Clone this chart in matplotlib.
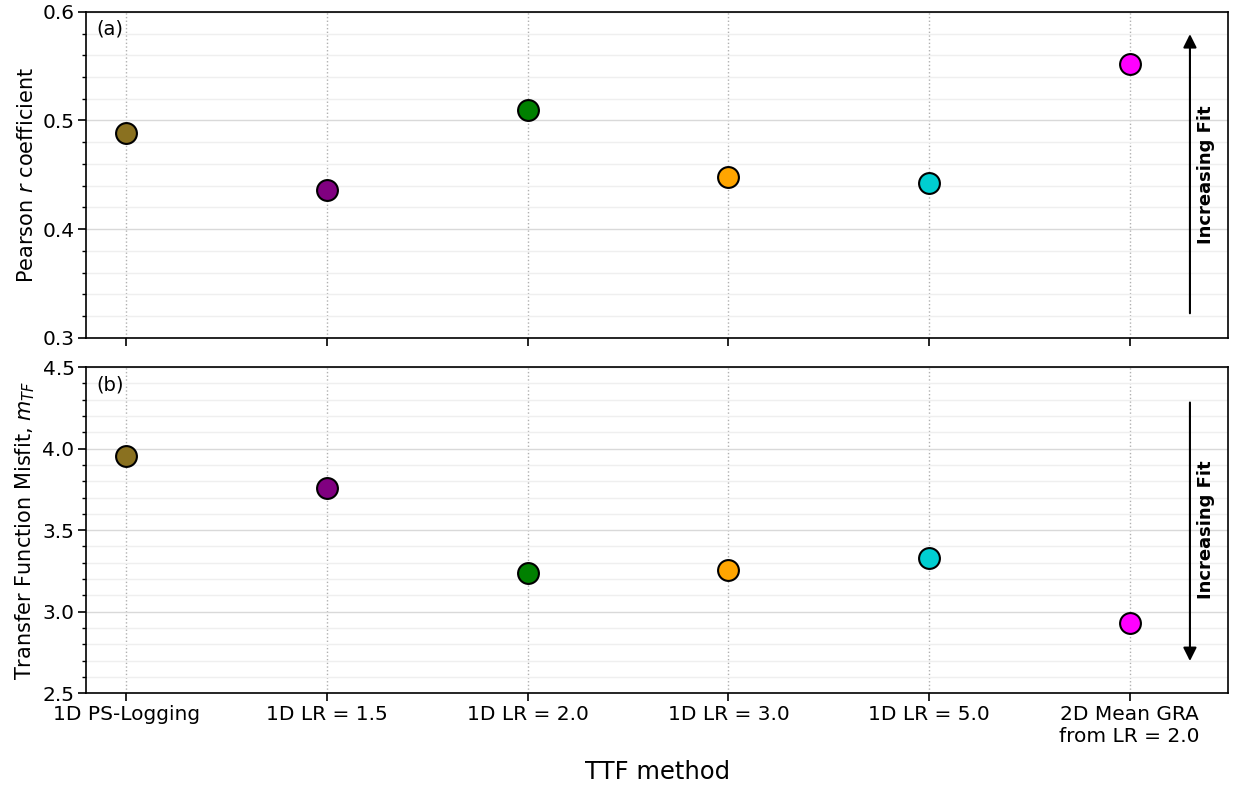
import numpy as np
import matplotlib
matplotlib.use('Agg')
import matplotlib.pyplot as plt
from matplotlib.ticker import MultipleLocator

# TTF methods compared
methods = ['1D PS-Logging', '1D LR = 1.5', '1D LR = 2.0', '1D LR = 3.0',
           '1D LR = 5.0', '2D Mean GRA\nfrom LR = 2.0']
colors = ['#8a7120', 'purple', 'green', 'orange', 'darkturquoise', 'magenta']

# goodness-of-fit measures per method
pearson_r = [0.488, 0.436, 0.510, 0.448, 0.442, 0.552]
tf_misfit = [3.954, 3.758, 3.236, 3.255, 3.328, 2.929]

plt.rcParams['font.family'] = 'DejaVu Sans'

fig, (ax1, ax2) = plt.subplots(2, 1, figsize=(12.33, 7.85), dpi=100, sharex=True)
fig.subplots_adjust(left=0.07, right=0.996, top=0.985, bottom=0.117, hspace=0.09)

x = np.arange(len(methods))

for ax, vals in [(ax1, pearson_r), (ax2, tf_misfit)]:
    for xi, v, c in zip(x, vals, colors):
        ax.plot(xi, v, 'o', ms=15, mfc=c, mec='black', mew=1.5, zorder=3)
    ax.grid(True, which='major', axis='y', color='#d9d9d9', lw=1.0)
    ax.grid(True, which='minor', axis='y', color='#efefef', lw=1.0)
    ax.grid(True, which='major', axis='x', color='#b0b0b0', ls=':', lw=1.0)
    ax.set_axisbelow(True)
    ax.tick_params(axis='both', which='major', labelsize=14.5, length=6, width=1.2, pad=2.5)
    ax.tick_params(axis='y', which='minor', length=3, width=1.0)
    for s in ax.spines.values():
        s.set_linewidth(1.2)

ax1.set_xlim(-0.2, 5.49)
ax1.set_xticks(x)

# (a) Pearson r
ax1.set_ylim(0.3, 0.6)
ax1.yaxis.set_major_locator(MultipleLocator(0.1))
ax1.yaxis.set_minor_locator(MultipleLocator(0.02))
ax1.set_ylabel('Pearson $r$ coefficient', fontsize=15)
ax1.text(0.009, 0.975, '(a)', transform=ax1.transAxes, fontsize=14, va='top')
ax1.annotate('', xy=(5.3, 0.582), xytext=(5.3, 0.32),
             arrowprops=dict(arrowstyle='-|>', color='black', lw=1.5, mutation_scale=20))
ax1.text(5.38, 0.45, 'Increasing Fit', rotation=90, fontsize=13, fontweight='bold',
         ha='center', va='center')

# (b) transfer function misfit
ax2.set_ylim(2.5, 4.5)
ax2.yaxis.set_major_locator(MultipleLocator(0.5))
ax2.yaxis.set_minor_locator(MultipleLocator(0.1))
ax2.set_ylabel('Transfer Function Misfit, $m_{TF}$', fontsize=15)
ax2.text(0.009, 0.975, '(b)', transform=ax2.transAxes, fontsize=14, va='top')
ax2.annotate('', xy=(5.3, 2.68), xytext=(5.3, 4.30),
             arrowprops=dict(arrowstyle='-|>', color='black', lw=1.5, mutation_scale=20))
ax2.text(5.38, 3.5, 'Increasing Fit', rotation=90, fontsize=13, fontweight='bold',
         ha='center', va='center')

ax2.set_xticklabels(methods)
ax2.set_xlabel('TTF method', fontsize=17.5, labelpad=10)
fig.align_ylabels([ax1, ax2])

fig.savefig('out.png', dpi=100)
